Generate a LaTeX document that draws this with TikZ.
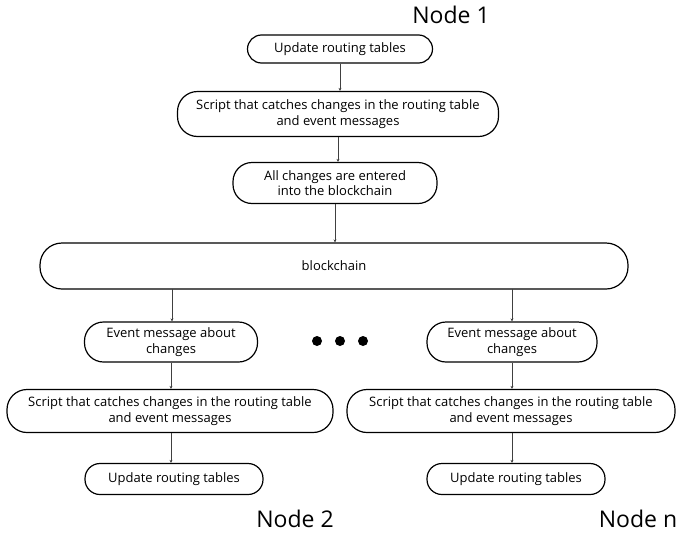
\documentclass[tikz,border=0pt]{standalone}
\usepackage{fontspec}
\setmainfont{Open Sans}
\usetikzlibrary{arrows.meta}
\begin{document}
\begin{tikzpicture}[x=1pt,y=-1pt,
  box/.style={draw, line width=1.2pt, rounded corners=#1, align=center, inner sep=0pt, font=\fontsize{13}{15.5}\selectfont},
  box/.default=14pt,
  conn/.style={draw, line width=0.6pt, color=black!75, -{Stealth[length=3pt,width=3pt]}},
  title/.style={font=\fontsize{23}{26}\selectfont}]
\useasboundingbox (0,0) rectangle (679,533);
\node[title] (n1) at (451,15) {Node 1};
\node[box, minimum width=185pt, minimum height=28pt] (a) at (340,49) {Update routing tables};
\node[box=20pt, minimum width=321pt, minimum height=45pt] (b) at (338,114) {Script that catches changes in the routing table\\and event messages};
\node[box=19pt, minimum width=204pt, minimum height=41pt] (c) at (335,183) {All changes are entered\\into the blockchain};
\node[box=22pt, minimum width=588pt, minimum height=46pt] (bc) at (334,266) {blockchain};
\coordinate (bl) at (172,289);
\coordinate (br) at (512,289);
\node[box=19pt, minimum width=173pt, minimum height=40pt] (e1) at (171,342) {Event message about\\changes};
\node[box=20pt, minimum width=326pt, minimum height=43pt] (s1) at (170,411) {Script that catches changes in the routing table\\and event messages};
\node[box=15pt, minimum width=178pt, minimum height=31pt] (u1) at (174,479) {Update routing tables};
\node[title] (n2) at (295,519) {Node 2};
\node[box=19pt, minimum width=170pt, minimum height=40pt] (e2) at (512,342) {Event message about\\changes};
\node[box=20pt, minimum width=328pt, minimum height=43pt] (s2) at (511,411) {Script that catches changes in the routing table\\and event messages};
\node[box=15pt, minimum width=178pt, minimum height=31pt] (u2) at (516,479) {Update routing tables};
\node[title] (nn) at (638,519) {Node n};
\fill (317,341) circle (5pt) (340,341) circle (5pt) (363,341) circle (5pt);
\draw[conn] (a.south) -- (a.south |- b.north);
\draw[conn] (b.south) -- (b.south |- c.north);
\draw[conn] (c.south) -- (c.south |- bc.north);
\draw[conn] (bl) -- (bl |- e1.north);
\draw[conn] (br) -- (br |- e2.north);
\draw[conn] (e1.south) -- (e1.south |- s1.north);
\draw[conn] (s1.south -| e1.south) -- (e1.south |- u1.north);
\draw[conn] (e2.south) -- (e2.south |- s2.north);
\draw[conn] (s2.south -| e2.south) -- (e2.south |- u2.north);
\end{tikzpicture}
\end{document}
